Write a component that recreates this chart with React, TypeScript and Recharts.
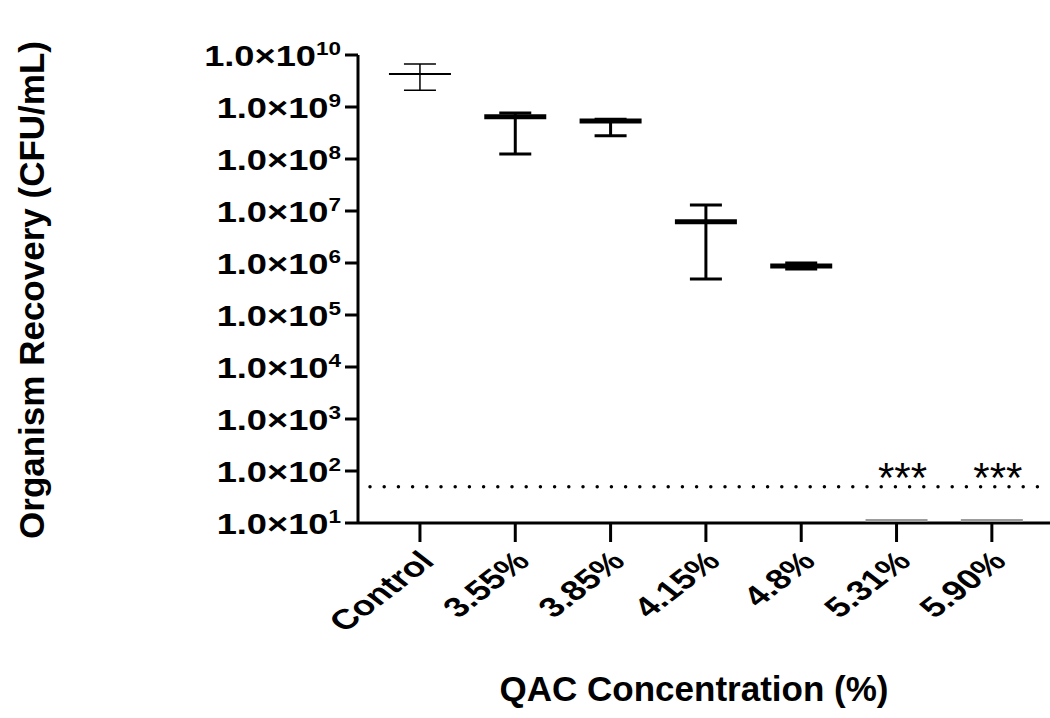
import React from "react";
import {
  ScatterChart,
  Scatter,
  XAxis,
  YAxis,
  ErrorBar,
  ReferenceLine,
  LabelList,
} from "recharts";

// QAC concentrations tested
const categories = ["Control", "3.55%", "3.85%", "4.15%", "4.8%", "5.31%", "5.90%"];
// geometric mean recovery (CFU/mL); below-LOD groups sit on the axis floor
const means = [4.3e9, 6.5e8, 5.4e8, 6.2e6, 8.8e5, 10, 10];
const upper = [6.7e9, 7.7e8, 5.8e8, 1.3e7, 1.0e6, null, null];
const lower = [2.1e9, 1.25e8, 2.8e8, 4.9e5, 7.7e5, null, null];
const significance = ["", "", "", "", "", "***", "***"];
const exponents = [1, 2, 3, 4, 5, 6, 7, 8, 9, 10];
const limitOfDetection = 50;

const FONT = "'Liberation Sans', Arial, sans-serif";
const STRETCH = 1.25;

const rows = categories.map((name, i) => ({
  x: i,
  name,
  y: means[i],
  err: upper[i] != null && lower[i] != null ? [means[i] - (lower[i] as number), (upper[i] as number) - means[i]] : [0, 0],
  sig: significance[i],
}));

const controlData = rows.filter((r) => r.x === 0);
const treatedData = rows.filter((r) => r.x > 0 && upper[r.x] != null);
const belowData = rows.filter((r) => upper[r.x] == null);

const meanLine = (color: string, w: number, lift = 0) => (props: any) => {
  const { cx, cy } = props;
  if (cx == null || cy == null) return <g />;
  return <line x1={cx - 31} x2={cx + 31} y1={cy - lift} y2={cy - lift} stroke={color} strokeWidth={w} />;
};

function YTick({ x, y, payload }: any) {
  const exp = Math.round(Math.log10(payload.value));
  return (
    <g transform={`translate(${x},${y})`}>
      <text
        transform={`scale(${STRETCH},1)`}
        textAnchor="end"
        dy={11}
        fontFamily={FONT}
        fontWeight="bold"
        fontSize={29}
        fill="#000"
      >
        1.0×10
        <tspan dy={-11} fontSize={18}>
          {exp}
        </tspan>
      </text>
    </g>
  );
}

function XTick({ x, y, payload }: any) {
  return (
    <g transform={`translate(${x + 16},${y + 19})`}>
      <text
        transform={`scale(1.3,1) rotate(-45)`}
        textAnchor="end"
        fontFamily={FONT}
        fontWeight="bold"
        fontSize={28}
        fill="#000"
      >
        {categories[payload.value]}
      </text>
    </g>
  );
}

function StarLabel(props: any) {
  const { x, y, width, height, value } = props;
  if (!value) return null;
  const cx = x + (width || 0) / 2;
  const cy = y + (height || 0) / 2;
  return (
    <text x={cx + 6} y={cy - 31} textAnchor="middle" fontFamily={FONT} fontSize={42} fill="#000">
      {value}
    </text>
  );
}

export default function App() {
  return (
    <div style={{ position: "absolute", left: 0, top: 0, background: "#fff" }}>
      <ScatterChart width={1050} height={718} margin={{ top: 55, right: 0, bottom: 0, left: 0 }}>
        <XAxis
          type="number"
          dataKey="x"
          domain={[-0.65, 6.61]}
          ticks={[0, 1, 2, 3, 4, 5, 6]}
          allowDataOverflow
          height={195}
          tickSize={19}
          tickMargin={2}
          axisLine={{ stroke: "#000", strokeWidth: 3 }}
          tickLine={{ stroke: "#000", strokeWidth: 3 }}
          tick={<XTick />}
          interval={0}
          label={() => (
            <text x={694} y={701} textAnchor="middle" fontFamily={FONT} fontWeight="bold" fontSize={35} fill="#000">
              QAC Concentration (%)
            </text>
          )}
        />
        <YAxis
          type="number"
          dataKey="y"
          scale="log"
          domain={[10, 1e10]}
          ticks={exponents.map((e) => Math.pow(10, e))}
          allowDataOverflow
          width={358}
          tickSize={13}
          tickMargin={4}
          axisLine={{ stroke: "#000", strokeWidth: 3 }}
          tickLine={{ stroke: "#000", strokeWidth: 3 }}
          tick={<YTick />}
          interval={0}
          label={() => (
            <text
              x={44}
              y={290}
              transform="rotate(-90, 44, 290)"
              textAnchor="middle"
              fontFamily={FONT}
              fontWeight="bold"
              fontSize={35}
              fill="#000"
            >
              Organism Recovery (CFU/mL)
            </text>
          )}
        />
        <ReferenceLine
          y={limitOfDetection}
          stroke="#000"
          strokeWidth={3.5}
          strokeDasharray="0 14.2"
          strokeLinecap="round"
          strokeDashoffset={-12}
        />
        <Scatter data={controlData} shape={meanLine("#000", 2)} isAnimationActive={false}>
          <ErrorBar dataKey="err" direction="y" width={16} stroke="#000" strokeWidth={1.5} />
        </Scatter>
        <Scatter data={treatedData} shape={meanLine("#000", 5)} isAnimationActive={false}>
          <ErrorBar dataKey="err" direction="y" width={16} stroke="#000" strokeWidth={3} />
        </Scatter>
        <Scatter data={belowData} shape={meanLine("#9c9c9c", 3, 2.5)} isAnimationActive={false}>
          <LabelList dataKey="sig" content={<StarLabel />} />
        </Scatter>
      </ScatterChart>
    </div>
  );
}
